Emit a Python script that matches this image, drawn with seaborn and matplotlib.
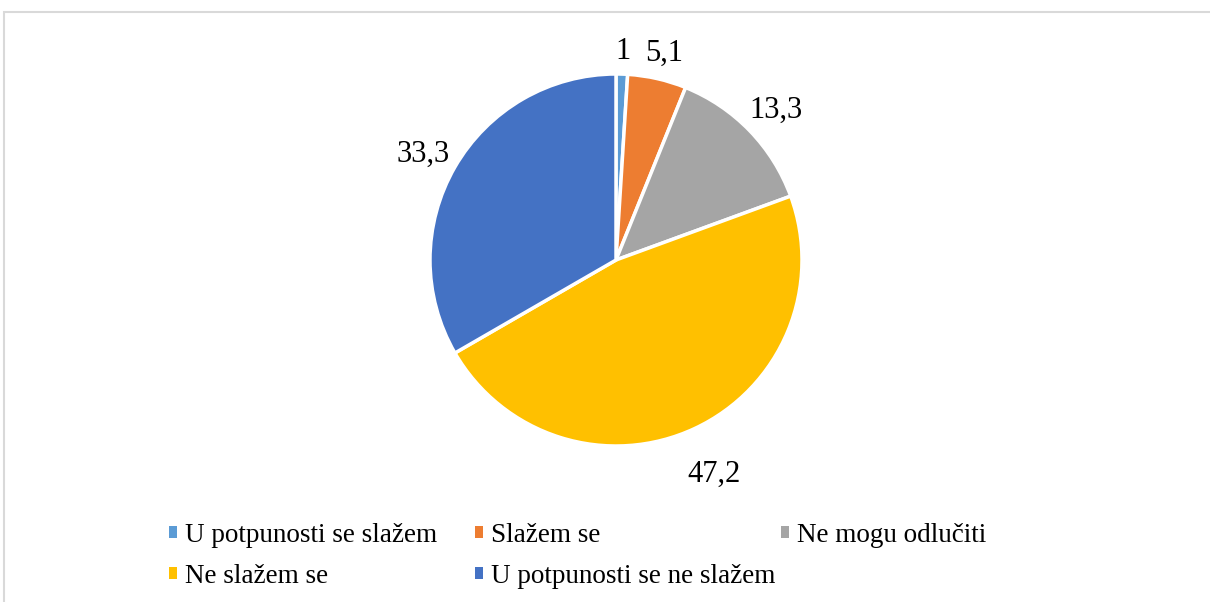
import numpy as np
import matplotlib
matplotlib.use("Agg")
import matplotlib.pyplot as plt
import seaborn as sns
from matplotlib.patches import Rectangle, Patch

categories = ["U potpunosti se slažem", "Slažem se", "Ne mogu odlučiti",
              "Ne slažem se", "U potpunosti se ne slažem"]
values = [1, 5.1, 13.3, 47.2, 33.3]
value_labels = ["1", "5,1", "13,3", "47,2", "33,3"]
colors = ["#5b9bd5", "#ed7d31", "#a5a5a5", "#ffc000", "#4472c4"]

sns.set_theme(style="white")
plt.rcParams["font.family"] = ["Liberation Serif", "DejaVu Serif"]
plt.rcParams["text.color"] = "black"

W, H = 1210, 602
fig = plt.figure(figsize=(W / 100, H / 100), dpi=100)

# pie centered at (616, 260) px with radius 186 px
cx, cy, r = 616, 260, 186
ax = fig.add_axes([(cx - r) / W, (H - cy - r) / H, 2 * r / W, 2 * r / H])
wedges, _ = ax.pie(values, colors=sns.color_palette(colors), startangle=90,
                   counterclock=False, radius=1,
                   wedgeprops=dict(edgecolor="white", linewidth=2.5))
ax.set_xlim(-1, 1)
ax.set_ylim(-1, 1)
ax.set_aspect("equal")
ax.axis("off")

# data labels outside the wedges
dists = [1.15, 1.17, 1.2, 1.24, 1.2]
for w, lab, d in zip(wedges, value_labels, dists):
    ang = np.deg2rad((w.theta1 + w.theta2) / 2)
    ax.text(d * np.cos(ang), d * np.sin(ang) - 0.03, lab, ha="center",
            va="center", fontsize=22, color="black", clip_on=False)

# chart border (light gray, cut off at right / bottom)
fig.patches.append(Rectangle((4 / W, -0.1), 1.2, (H - 12) / H + 0.1,
                             transform=fig.transFigure, fill=False,
                             edgecolor="#d9d9d9", linewidth=1.5))

# legend: 3 columns laid out row by row, like Excel
col_x = [158, 464, 770]
columns = [[0, 3], [1, 4], [2]]
for x, idx in zip(col_x, columns):
    handles = [Patch(facecolor=colors[i], edgecolor="none") for i in idx]
    leg = fig.legend(handles, [categories[i] for i in idx], loc="upper left",
                     bbox_to_anchor=(x / W, 1 - 512 / H), frameon=False,
                     fontsize=19.5, handlelength=0.3, handleheight=0.3,
                     handletextpad=0.3, labelspacing=0.6, borderaxespad=0)
    for t in leg.get_texts():
        t.set_color("black")

fig.savefig("out.png", dpi=100)
